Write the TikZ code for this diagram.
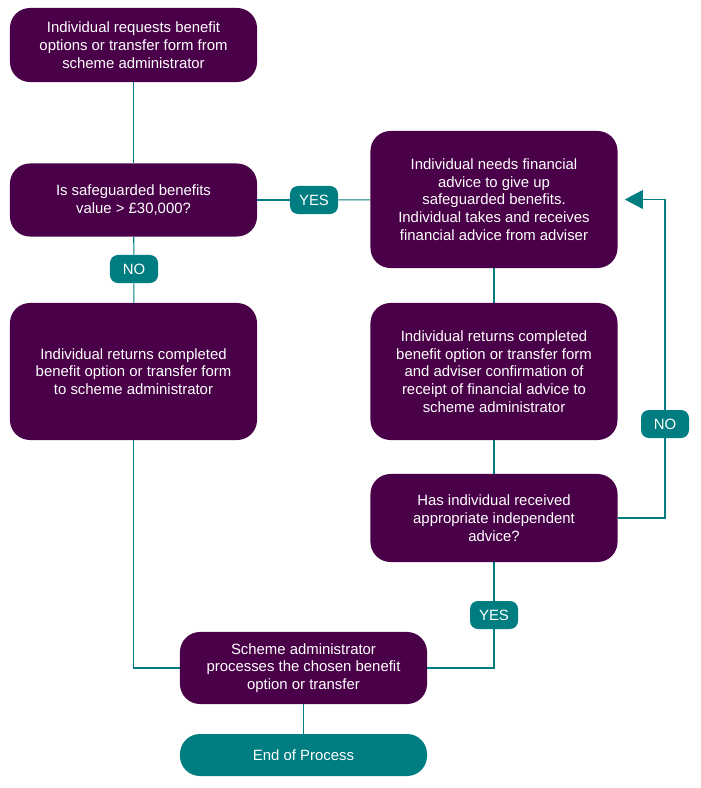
\documentclass[tikz,border=0pt]{standalone}
\usepackage{fontspec}
\setmainfont{Liberation Sans}
\usetikzlibrary{arrows.meta}
\definecolor{plum}{HTML}{4A0049}
\definecolor{teal}{HTML}{007D80}
\tikzset{
	stepbox/.style = {fill = plum, text = white, rounded corners = 0.5cm, minimum width = 6.175cm,
		align = center, font = \fontsize{10.6}{12.6}\selectfont, inner sep = 0pt},
	endbox/.style = {stepbox, fill = teal},
	answer/.style = {fill = teal, text = white, rounded corners = 0.2cm, minimum width = 1.2cm,
		minimum height = 0.7cm, font = \fontsize{10.6}{12.6}\selectfont, inner sep = 0pt},
	link/.style = {draw = teal, line width = 0.8pt}
}
\begin{document}
\begin{tikzpicture} [x = 0.025cm, y = -0.025cm]
	\useasboundingbox (0,0) rectangle (700,788);
	% boxes
	\node [stepbox, minimum height = 1.85cm] (request) at (133.5,45) {Individual requests benefit\\options or transfer form from\\scheme administrator};
	\node [stepbox, minimum height = 1.825cm] (value) at (133.5,200) {Is safeguarded benefits\\value > £30,000?};
	\node [stepbox, minimum height = 3.425cm] (returnleft) at (133.5,371.5) {Individual returns completed\\benefit option or transfer form\\to scheme administrator};
	\node [stepbox, minimum height = 3.425cm] (advice) at (494,199.5) {Individual needs financial\\advice to give up\\safeguarded benefits.\\Individual takes and receives\\financial advice from adviser};
	\node [stepbox, minimum height = 3.425cm] (returnright) at (494,371.5) {Individual returns completed\\benefit option or transfer form\\and adviser confirmation of\\receipt of financial advice to\\scheme administrator};
	\node [stepbox, minimum height = 2.2cm] (received) at (494,518) {Has individual received\\appropriate independent\\advice?};
	\node [stepbox, minimum height = 1.8cm] (process) at (303.5,668) {Scheme administrator\\processes the chosen benefit\\option or transfer};
	\node [endbox, minimum height = 1.05cm] (finish) at (303.5,755) {End of Process};
	% answers
	\node [answer] (noleft) at (134,269) {NO};
	\node [answer] (yesright) at (314,200) {YES};
	\node [answer] (noright) at (665,424) {NO};
	\node [answer] (yesdown) at (494,615) {YES};
	% links
	\draw [link] (request) -- (value);
	\draw [link] (value) -- (noleft);
	\draw [link] (noleft) -- (returnleft);
	\draw [link] (value) -- (yesright);
	\draw [link] (yesright) -- (advice);
	\draw [link] (advice) -- (returnright);
	\draw [link] (returnright) -- (received);
	\draw [link] (received.east) -| (noright);
	\draw [link, -{Triangle[length = 0.45cm, width = 0.47cm]}, shorten > = 0.175cm] (noright) |- (advice.east);
	\draw [link] (received) -- (yesdown);
	\draw [link] (yesdown) |- (process.east);
	\draw [link] (returnleft) |- (process.west);
	\draw [link] (process) -- (finish);
\end{tikzpicture}
\end{document}
